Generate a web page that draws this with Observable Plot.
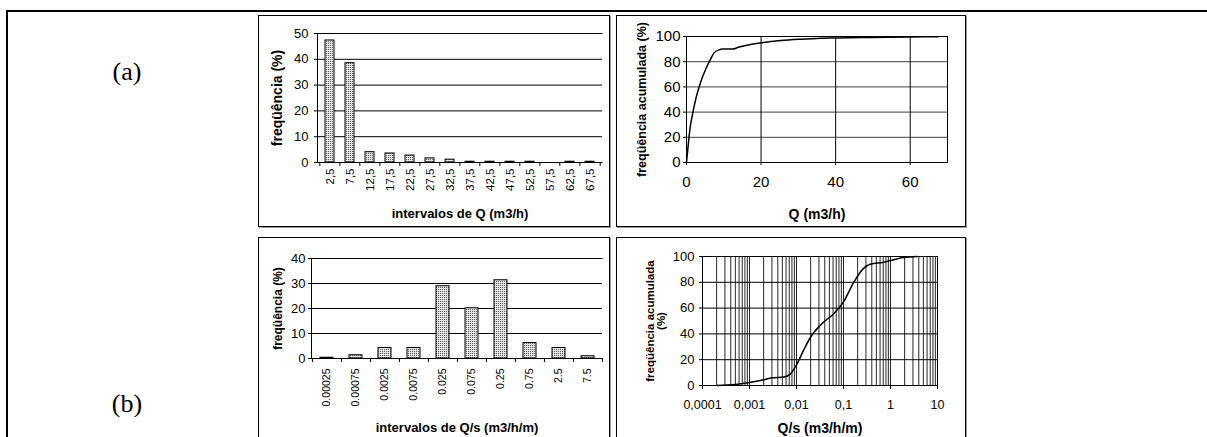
<!DOCTYPE html>
<html><head><meta charset="utf-8">
<script src="https://cdn.jsdelivr.net/npm/d3@7"></script>
<script src="https://cdn.jsdelivr.net/npm/@observablehq/plot@0.6"></script>
<style>
body{margin:0;background:#fff;}
#page{position:relative;width:1207px;height:437px;overflow:hidden;background:#fff;font-family:"Liberation Sans",Arial,sans-serif;}
.box{position:absolute;border:1px solid #000;box-sizing:border-box;box-shadow:1px 1px 0 #999;}
.panel{position:absolute;}
.tag{position:absolute;font-family:"Liberation Serif","Times New Roman",serif;font-size:26px;transform:translate(-50%,-50%);}
</style></head><body>
<svg width="0" height="0" style="position:absolute"><defs><pattern id="dots" width="2" height="2" patternUnits="userSpaceOnUse"><rect width="2" height="2" fill="#e2e2e2"/><rect width="1" height="1" fill="#5e5e5e"/></pattern></defs></svg>
<div id="page">
  <div style="position:absolute;left:6px;top:10px;width:1201px;height:2px;background:#000"></div>
  <div style="position:absolute;left:6px;top:10px;width:2px;height:427px;background:#000"></div>
  <div class="tag" style="left:127px;top:72px">(a)</div>
  <div class="tag" style="left:127px;top:404px">(b)</div>
  <div class="box" style="left:258px;top:15px;width:352px;height:212px"></div>
  <div class="box" style="left:616px;top:15px;width:350px;height:212px"></div>
  <div class="box" style="left:258px;top:237px;width:352px;height:220px"></div>
  <div class="box" style="left:616px;top:237px;width:350px;height:220px"></div>
  <div class="panel" id="p1" style="left:258px;top:15px"></div>
  <div class="panel" id="p2" style="left:616px;top:15px"></div>
  <div class="panel" id="p3" style="left:258px;top:237px"></div>
  <div class="panel" id="p4" style="left:616px;top:237px"></div>
</div>
<script>
// ---- data ----
const qCats = ["2,5","7,5","12,5","17,5","22,5","27,5","32,5","37,5","42,5","47,5","52,5","57,5","62,5","67,5"];
const qFreq = [47.3, 38.5, 4.0, 3.5, 2.7, 1.6, 1.1, 0.3, 0.3, 0.3, 0.3, 0, 0.3, 0.3];
const qFreqTicks = [0, 10, 20, 30, 40, 50];

const qCumX = [0, 0.5, 1.0, 1.6, 2.5, 3.8, 5.2, 6.5, 7.4, 8.75, 9.6, 12.3, 14.1, 17.2, 20, 25.3, 30.6, 36, 40, 50, 60, 67.5];
const qCumY = [0, 15, 28, 38, 50.6, 63.9, 74.4, 82.3, 87, 89.4, 90, 90, 91.6, 93.7, 95, 96.8, 97.9, 98.7, 98.9, 99.3, 99.6, 99.8];
const qCumXTicks = [0, 20, 40, 60];
const cumYTicks = [0, 20, 40, 60, 80, 100];

const qsCats = ["0.00025","0.00075","0.0025","0.0075","0.025","0.075","0.25","0.75","2.5","7.5"];
const qsFreq = [0.3, 1.3, 4.2, 4.2, 28.9, 20.1, 31.3, 6.2, 4.2, 0.9];
const qsFreqTicks = [0, 10, 20, 30, 40];

const qsCumX = [0.0002, 0.0005, 0.00076, 0.001, 0.002, 0.003, 0.0054, 0.0074, 0.01, 0.014, 0.02, 0.035, 0.062, 0.1, 0.165, 0.27, 0.37, 0.72, 1, 1.9, 3.7];
const qsCumY = [0, 0.7, 1.7, 2.3, 4.4, 6, 6.5, 9, 16, 27, 37.6, 48, 55.7, 64.8, 80, 91, 94, 95.6, 96.9, 99.2, 100];
const qsCumXTicks = [0.0001, 0.001, 0.01, 0.1, 1, 10];

const FONT = "Liberation Sans, Arial, sans-serif";
const comma = d => String(d).replace(".", ",");

function boldLabels(svg, xSize, ySize) {
  svg.querySelectorAll('[aria-label="x-axis label"] text').forEach(t => {
    t.style.fontWeight = "bold"; t.style.fontSize = xSize + "px";
  });
  svg.querySelectorAll('[aria-label="y-axis label"] text').forEach(t => {
    t.style.fontWeight = "bold"; t.style.fontSize = ySize + "px";
  });
  return svg;
}

// ---- panel 1: histogram of Q ----
{
  const W = 352, H = 212, m = {top: 18, right: 8, bottom: 65, left: 59};
  const iw = W - m.left - m.right, ih = H - m.top - m.bottom;
  const step = iw / qCats.length;
  const svg = Plot.plot({
    width: W, height: H, marginTop: m.top, marginRight: m.right, marginBottom: m.bottom, marginLeft: m.left,
    style: {fontFamily: FONT, fontSize: "13px", background: "transparent", color: "#000", overflow: "visible"},
    x: {type: "band", domain: qCats, paddingInner: 0.56, paddingOuter: 0.28},
    y: {domain: [0, 50]},
    marks: [
      Plot.gridY(qFreqTicks, {stroke: "#000", strokeOpacity: 1}),
      Plot.frame({stroke: "#000", strokeDasharray: `${iw} ${ih} ${iw + ih}`}),
      Plot.barY(qCats.map((c, i) => ({c, v: qFreq[i]})), {x: "c", y: "v", fill: "url(#dots)", stroke: "#000", strokeWidth: 1}),
      Plot.axisY(qFreqTicks, {tickSize: 3, tickPadding: 6, label: "freqüência (%)", labelAnchor: "center", labelArrow: "none", labelOffset: 45}),
      Plot.axisX({tickSize: 0, tickPadding: 6, tickRotate: -90, fontSize: 11.5, label: "intervalos de Q (m3/h)", labelAnchor: "center", labelArrow: "none", labelOffset: 55}),
      Plot.axisX(qCats, {tickSize: 4, tickFormat: () => "", dx: -step / 2, label: null}),
      Plot.axisX([qCats[qCats.length - 1]], {tickSize: 4, tickFormat: () => "", dx: step / 2, label: null})
    ]
  });
  document.getElementById("p1").append(boldLabels(svg, 13, 14));
}

// ---- panel 2: cumulative Q ----
{
  const W = 350, H = 212, m = {top: 21, right: 19, bottom: 65, left: 70};
  const svg = Plot.plot({
    width: W, height: H, marginTop: m.top, marginRight: m.right, marginBottom: m.bottom, marginLeft: m.left,
    style: {fontFamily: FONT, fontSize: "15px", background: "transparent", color: "#000", overflow: "visible"},
    x: {domain: [0, 70]},
    y: {domain: [0, 100]},
    marks: [
      Plot.gridY(cumYTicks, {stroke: "#404040", strokeOpacity: 1}),
      Plot.gridX(qCumXTicks, {stroke: "#000", strokeOpacity: 1}),
      Plot.frame({stroke: "#000"}),
      Plot.line(qCumX.map((x, i) => ({x, y: qCumY[i]})), {x: "x", y: "y", stroke: "#000", strokeWidth: 1.5, curve: "monotone-x"}),
      Plot.axisY(cumYTicks, {tickSize: 3, tickPadding: 3, label: "freqüência acumulada (%)", labelAnchor: "center", labelArrow: "none", labelOffset: 49}),
      Plot.axisX(qCumXTicks, {tickSize: 3, tickPadding: 11, label: "Q (m3/h)", labelAnchor: "center", labelArrow: "none", labelOffset: 56})
    ]
  });
  document.getElementById("p2").append(boldLabels(svg, 14, 12.5));
}

// ---- panel 3: histogram of Q/s ----
{
  const W = 352, H = 200, m = {top: 21, right: 8, bottom: 79, left: 53};
  const iw = W - m.left - m.right, ih = H - m.top - m.bottom;
  const step = iw / qsCats.length;
  const svg = Plot.plot({
    width: W, height: H, marginTop: m.top, marginRight: m.right, marginBottom: m.bottom, marginLeft: m.left,
    style: {fontFamily: FONT, fontSize: "13px", background: "transparent", color: "#000", overflow: "visible"},
    x: {type: "band", domain: qsCats, paddingInner: 0.56, paddingOuter: 0.28},
    y: {domain: [0, 40]},
    marks: [
      Plot.gridY(qsFreqTicks, {stroke: "#000", strokeOpacity: 1}),
      Plot.frame({stroke: "#000", strokeDasharray: `${iw} ${ih} ${iw + ih}`}),
      Plot.barY(qsCats.map((c, i) => ({c, v: qsFreq[i]})), {x: "c", y: "v", fill: "url(#dots)", stroke: "#000", strokeWidth: 1}),
      Plot.axisY(qsFreqTicks, {tickSize: 3, tickPadding: 3, label: "freqüência (%)", labelAnchor: "center", labelArrow: "none", labelOffset: 38}),
      Plot.axisX({tickSize: 0, tickPadding: 10, tickRotate: -90, fontSize: 10.5, label: "intervalos de Q/s (m3/h/m)", labelAnchor: "center", labelArrow: "none", labelOffset: 73}),
      Plot.axisX(qsCats, {tickSize: 4, tickFormat: () => "", dx: -step / 2, label: null}),
      Plot.axisX([qsCats[qsCats.length - 1]], {tickSize: 4, tickFormat: () => "", dx: step / 2, label: null})
    ]
  });
  document.getElementById("p3").append(boldLabels(svg, 13, 12));
}

// ---- panel 4: cumulative Q/s (log) ----
{
  const W = 350, H = 200, m = {top: 19, right: 29, bottom: 52, left: 86};
  const svg = Plot.plot({
    width: W, height: H, marginTop: m.top, marginRight: m.right, marginBottom: m.bottom, marginLeft: m.left,
    style: {fontFamily: FONT, fontSize: "13px", background: "transparent", color: "#000", overflow: "visible"},
    x: {type: "log", domain: [0.0001, 10]},
    y: {domain: [0, 100]},
    marks: [
      Plot.gridX({ticks: 50, stroke: "#000", strokeOpacity: 0.85}),
      Plot.gridY(cumYTicks, {stroke: "#000", strokeOpacity: 1}),
      Plot.frame({stroke: "#000"}),
      Plot.line(qsCumX.map((x, i) => ({x, y: qsCumY[i]})), {x: "x", y: "y", stroke: "#000", strokeWidth: 1.5, curve: "monotone-x"}),
      Plot.axisY(cumYTicks, {tickSize: 3, tickPadding: 5, label: "freqüência acumulada\n(%)", labelAnchor: "center", labelArrow: "none", labelOffset: 57}),
      Plot.axisX(qsCumXTicks, {tickSize: 4, tickPadding: 11, fontSize: 12.5, tickFormat: comma, label: "Q/s (m3/h/m)", labelAnchor: "center", labelArrow: "none", labelOffset: 47})
    ]
  });
  document.getElementById("p4").append(boldLabels(svg, 14, 11.5));
}
</script>
</body></html>
